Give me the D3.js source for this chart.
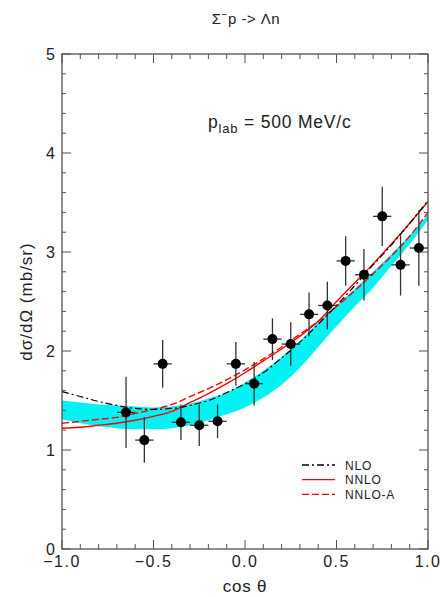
<!DOCTYPE html>
<html>
<head>
<meta charset="utf-8">
<script src="https://cdn.jsdelivr.net/npm/d3@7"></script>
<style>
  html, body { margin: 0; padding: 0; background: #fff; }
  svg { display: block; font-family: "Liberation Sans", Arial, Helvetica, sans-serif; }
</style>
</head>
<body>
<svg id="chart" width="442" height="597"></svg>
<script>
// Measured differential cross sections, Sigma- p -> Lambda n at p_lab = 500 MeV/c
const cosTheta = [-0.65, -0.55, -0.45, -0.35, -0.25, -0.15, -0.05, 0.05, 0.15, 0.25, 0.35, 0.45, 0.55, 0.65, 0.75, 0.85, 0.95];
const sigma    = [1.38, 1.10, 1.87, 1.28, 1.25, 1.29, 1.87, 1.67, 2.12, 2.07, 2.37, 2.46, 2.91, 2.77, 3.36, 2.87, 3.04];
const sigmaErr = [0.36, 0.23, 0.24, 0.18, 0.21, 0.17, 0.22, 0.22, 0.21, 0.22, 0.22, 0.24, 0.25, 0.26, 0.30, 0.31, 0.38];
const binHalfWidth = 0.05;

// Theory curves sampled in cos(theta)
const grid   = [-1.0, -0.9, -0.8, -0.7, -0.6, -0.5, -0.4, -0.3, -0.2, -0.1, 0.0, 0.1, 0.2, 0.3, 0.4, 0.5, 0.6, 0.7, 0.8, 0.9, 1.0];
const nlo    = [1.59, 1.54, 1.49, 1.45, 1.42, 1.41, 1.42, 1.45, 1.50, 1.58, 1.67, 1.78, 1.93, 2.09, 2.27, 2.46, 2.66, 2.87, 3.07, 3.29, 3.52];
const nnlo   = [1.22, 1.23, 1.25, 1.27, 1.30, 1.34, 1.39, 1.48, 1.57, 1.67, 1.78, 1.90, 2.02, 2.15, 2.30, 2.50, 2.69, 2.88, 3.08, 3.29, 3.51];
const nnloA  = [1.27, 1.29, 1.31, 1.33, 1.37, 1.41, 1.46, 1.54, 1.62, 1.71, 1.81, 1.92, 2.04, 2.17, 2.30, 2.45, 2.61, 2.78, 2.96, 3.16, 3.40];
const bandLo = [1.31, 1.27, 1.24, 1.22, 1.21, 1.21, 1.22, 1.25, 1.30, 1.36, 1.43, 1.53, 1.66, 1.83, 2.04, 2.25, 2.45, 2.64, 2.86, 3.08, 3.32];
const bandHi = [1.50, 1.48, 1.46, 1.45, 1.44, 1.43, 1.44, 1.47, 1.52, 1.58, 1.68, 1.80, 1.94, 2.10, 2.29, 2.46, 2.63, 2.80, 2.98, 3.17, 3.38];

const xTicks = [-1.0, -0.5, 0.0, 0.5, 1.0];
const yTicks = [0, 1, 2, 3, 4, 5];

const legendItems = [
  { label: "NLO",    color: "#000",    dash: "7,3,2,3" },
  { label: "NNLO",   color: "#ff0000", dash: null },
  { label: "NNLO-A", color: "#ff0000", dash: "7,3" }
];

const svg = d3.select("#chart");
const plotL = 62, plotR = 428, plotT = 54, plotB = 549;

const x = d3.scaleLinear().domain([-1, 1]).range([plotL, plotR]);
const y = d3.scaleLinear().domain([0, 5]).range([plotB, plotT]);

// Uncertainty band
const band = grid.map((g, i) => ({ c: g, lo: bandLo[i], hi: bandHi[i] }));
svg.append("path")
  .datum(band)
  .attr("fill", "#00f2f2")
  .attr("d", d3.area().curve(d3.curveMonotoneX)
    .x(d => x(d.c)).y0(d => y(d.lo)).y1(d => y(d.hi)));

// Theory lines
const lineGen = d3.line().curve(d3.curveMonotoneX).x(d => x(d.c)).y(d => y(d.v));
const curves = [
  { vals: nnlo,  color: "#ff0000", dash: null,      width: 1.4 },
  { vals: nnloA, color: "#ff0000", dash: "7,3",     width: 1.4 },
  { vals: nlo,   color: "#000",    dash: "7,3,2,3", width: 1.2 }
];
curves.forEach(c => {
  svg.append("path")
    .datum(grid.map((g, i) => ({ c: g, v: c.vals[i] })))
    .attr("fill", "none")
    .attr("stroke", c.color)
    .attr("stroke-width", c.width)
    .attr("stroke-dasharray", c.dash)
    .attr("d", lineGen);
});

// Data points with error bars
const pts = cosTheta.map((c, i) => ({ c, v: sigma[i], e: sigmaErr[i] }));
const g = svg.append("g");
g.selectAll("line.ev").data(pts).join("line")
  .attr("x1", d => x(d.c)).attr("x2", d => x(d.c))
  .attr("y1", d => y(d.v - d.e)).attr("y2", d => y(d.v + d.e))
  .attr("stroke", "#333").attr("stroke-width", 1.3);
g.selectAll("line.eh").data(pts).join("line")
  .attr("x1", d => x(d.c - binHalfWidth)).attr("x2", d => x(d.c + binHalfWidth))
  .attr("y1", d => y(d.v)).attr("y2", d => y(d.v))
  .attr("stroke", "#333").attr("stroke-width", 1.3);
g.selectAll("circle").data(pts).join("circle")
  .attr("cx", d => x(d.c)).attr("cy", d => y(d.v)).attr("r", 5)
  .attr("fill", "#000");

// Frame
svg.append("rect")
  .attr("x", plotL).attr("y", plotT)
  .attr("width", plotR - plotL).attr("height", plotB - plotT)
  .attr("fill", "none").attr("stroke", "#444").attr("stroke-width", 1.2);

// Inward ticks on all four sides
const tickColor = "#555";
const xMinor = d3.range(-10, 11).map(k => k / 10);
xMinor.forEach(v => {
  const major = Math.abs(v * 2 - Math.round(v * 2)) < 1e-9;
  const len = major ? 9 : 5;
  svg.append("line").attr("x1", x(v)).attr("x2", x(v)).attr("y1", plotB).attr("y2", plotB - len)
    .attr("stroke", tickColor).attr("stroke-width", 1);
  svg.append("line").attr("x1", x(v)).attr("x2", x(v)).attr("y1", plotT).attr("y2", plotT + len)
    .attr("stroke", tickColor).attr("stroke-width", 1);
});
const yMinor = d3.range(0, 26).map(k => k / 5);
yMinor.forEach(v => {
  const major = Math.abs(v - Math.round(v)) < 1e-9;
  const len = major ? 9 : 4;
  svg.append("line").attr("y1", y(v)).attr("y2", y(v)).attr("x1", plotL).attr("x2", plotL + len)
    .attr("stroke", tickColor).attr("stroke-width", 1);
  svg.append("line").attr("y1", y(v)).attr("y2", y(v)).attr("x1", plotR).attr("x2", plotR - len)
    .attr("stroke", tickColor).attr("stroke-width", 1);
});

// Tick labels
svg.selectAll("text.xt").data(xTicks).join("text")
  .attr("x", d => x(d)).attr("y", 567)
  .attr("text-anchor", "middle").attr("font-size", 16).attr("letter-spacing", 1.5).attr("fill", "#222")
  .text(d => d3.format(".1f")(d));
svg.selectAll("text.yt").data(yTicks).join("text")
  .attr("x", 55).attr("y", d => y(d) + 6)
  .attr("text-anchor", "end").attr("font-size", 16).attr("fill", "#222")
  .text(d => d);

// Axis titles
const xt = svg.append("text").attr("x", x(0)).attr("y", 592)
  .attr("text-anchor", "middle").attr("font-size", 17).attr("letter-spacing", 0.8).attr("fill", "#222");
xt.append("tspan").text("cos ");
xt.append("tspan").text("θ");

svg.append("text")
  .attr("transform", `translate(32,${(plotT + plotB) / 2}) rotate(-90)`)
  .attr("text-anchor", "middle").attr("font-size", 17).attr("letter-spacing", 1).attr("fill", "#222")
  .text("dσ/dΩ (mb/sr)");

// Title
const title = svg.append("text").attr("x", 246).attr("y", 24)
  .attr("text-anchor", "middle").attr("font-size", 15).attr("letter-spacing", 0.5).attr("fill", "#222");
title.append("tspan").text("Σ");
title.append("tspan").attr("dy", -6).attr("font-size", 10).text("−");
title.append("tspan").attr("dy", 6).text("p -> Λn");

// Beam momentum annotation
const ann = svg.append("text").attr("x", 208).attr("y", 128)
  .attr("font-size", 17.5).attr("letter-spacing", 0.8).attr("fill", "#222");
ann.append("tspan").text("p");
ann.append("tspan").attr("dy", 5).attr("font-size", 13).text("lab");
ann.append("tspan").attr("dy", -5).text(" = 500 MeV/c");

// Legend
const leg = svg.append("g");
legendItems.forEach((it, i) => {
  const ly = 465 + i * 14.7;
  leg.append("line").attr("x1", 302).attr("x2", 335).attr("y1", ly).attr("y2", ly)
    .attr("stroke", it.color).attr("stroke-width", 1.3).attr("stroke-dasharray", it.dash);
  leg.append("text").attr("x", 345).attr("y", ly + 4.5)
    .attr("font-size", 12).attr("letter-spacing", 0.8).attr("fill", "#222").text(it.label);
});
</script>
</body>
</html>
